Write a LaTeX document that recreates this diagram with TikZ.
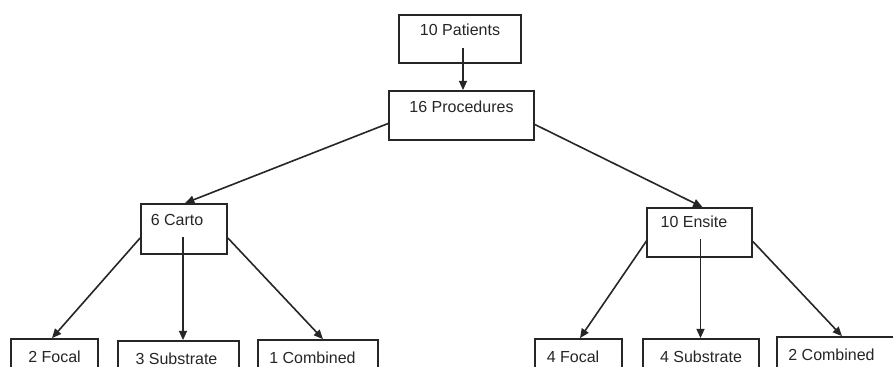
\documentclass[tikz,border=0pt]{standalone}
\usepackage{fontspec}
\setmainfont{Liberation Sans}
\usetikzlibrary{calc,arrows.meta}
\tikzset{
  box/.style={draw=black!85, line width=1.3pt, inner sep=0pt, text=black!85,
    font=\fontsize{12}{14}\selectfont, minimum height=0pt},
  topbox/.style={box, text height=16.5pt, text depth=20.25pt},
  botbox/.style={box, text height=17.25pt, text depth=19.5pt},
  conn/.style={draw=black!85, line width=1.2pt, -{Triangle[length=7pt,width=6pt]}}
}
\begin{document}
\begin{tikzpicture}[x=0.75pt,y=-0.75pt]
\fill[white] (0,0) rectangle (893,367);
\clip (0,0) rectangle (893,367);
% top levels
\node[box, text height=15.75pt, text depth=20.25pt, minimum width=91.5pt] (pat) at (460,39) {10 Patients};
\node[topbox, minimum width=108.75pt] (proc) at (461.5,115.5) {16 Procedures};
\node[box, text height=16.5pt, text depth=21pt, minimum width=64.5pt] (carto) at (184,229) {6 Carto\hspace*{10.5pt}};
\node[box, text height=15pt, text depth=21.75pt, minimum width=78.75pt] (ensite) at (699.5,232.5) {10 Ensite\hspace*{8.25pt}};
% bottom row
\node[botbox, minimum width=65.25pt] (f1) at (54.5,363.5) {2 Focal};
\node[botbox, minimum width=90.75pt] (s1) at (178.5,365.5) {3 Substrate\hspace*{3pt}};
\node[botbox, minimum width=90pt] (c1) at (318,364.5) {1 Combined\hspace*{8.25pt}};
\node[botbox, minimum width=65.25pt] (f2) at (578.5,363.5) {4 Focal\hspace*{8.25pt}};
\node[botbox, minimum width=87pt] (s2) at (701,363.5) {4 Substrate};
\node[botbox, minimum width=92.25pt] (c2) at (838.5,361.5) {2 Combined\hspace*{10.5pt}};
% connector start points
\coordinate (ps) at ($(pat.south)+(3,-16)$);
\coordinate (cs) at ($(carto.center)+(-1,8)$);
\coordinate (es) at ($(ensite.center)+(1,6.5)$);
% connectors
\draw[conn] (ps) -- (ps |- proc.north);
\draw[conn] ($(proc.west)+(0,8)$) -- ($(carto.north)+(1,0)$);
\draw[conn] ($(proc.east)+(0,9)$) -- ($(ensite.north)+(3,0)$);
\draw[conn] ($(carto.west)+(0,9)$) -- ($(f1.north)+(-2.5,0)$);
\draw[conn] (cs) -- (cs |- s1.north);
\draw[conn] ($(carto.east)+(0,9)$) -- ($(c1.north)+(5,0)$);
\draw[conn] ($(ensite.west)+(1,7.5)$) -- ($(f2.north)+(1.5,0)$);
\draw[conn] (es) -- (es |- s2.north);
\draw[conn] ($(ensite.east)+(0,9)$) -- ($(c2.north)+(3.5,0)$);
\end{tikzpicture}
\end{document}
